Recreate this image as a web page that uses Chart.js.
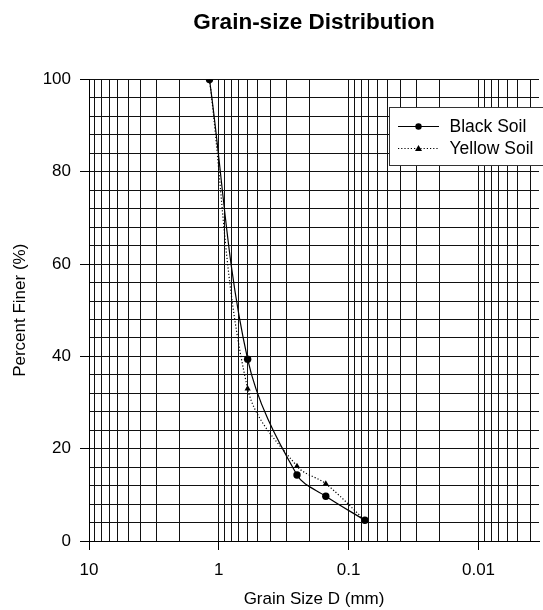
<!DOCTYPE html>
<html><head><meta charset="utf-8">
<script src="https://cdn.jsdelivr.net/npm/chart.js@4/dist/chart.umd.min.js"></script>
<style>html,body{margin:0;padding:0;background:#fff}canvas{display:block}</style>
</head><body>
<canvas id="c" width="543" height="610"></canvas>
<script>
// ---- data ----
const grainSizes = [1.18, 0.6, 0.25, 0.15, 0.075];
const blackSoil  = [100, 39.4, 14.3, 9.7, 4.5];
const yellowSoil = [100, 33.0, 16.2, 12.4, 4.5];
const seriesNames = ['Black Soil', 'Yellow Soil'];
const xTickLabels = [10, 1, 0.1, 0.01];
const xGridValues = [0.004,0.005,0.006,0.007,0.008,0.009,
  0.01,0.02,0.03,0.04,0.05,0.06,0.07,0.08,0.09,
  0.1,0.2,0.3,0.4,0.5,0.6,0.7,0.8,0.9,
  1,2,3,4,5,6,7,8,9,10];
const yTickLabels = [0, 20, 40, 60, 80, 100];
const yGridValues = [0,4,8,12,16,20,24,28,32,36,40,44,48,52,56,60,64,68,72,76,80,84,88,92,96,100];

const FONT = "'Liberation Sans', Arial, sans-serif";
Chart.defaults.font.family = FONT;
Chart.defaults.font.size = 17;
Chart.defaults.color = '#000';

const legendPlugin = {
  id: 'boxLegend',
  afterDraw(chart) {
    const ctx = chart.ctx;
    ctx.save();
    const x0 = 389.5, y0 = 107.5, w = 160, h = 58;
    ctx.fillStyle = '#fff';
    ctx.fillRect(x0, y0, w, h);
    ctx.strokeStyle = '#333';
    ctx.lineWidth = 1;
    ctx.strokeRect(x0, y0, w, h);
    const rows = [126.5, 148.5];
    chart.data.datasets.forEach((ds, i) => {
      const y = rows[i];
      ctx.strokeStyle = '#000';
      ctx.lineWidth = 1;
      ctx.setLineDash(ds.borderDash || []);
      ctx.beginPath(); ctx.moveTo(398, y); ctx.lineTo(439, y); ctx.stroke();
      ctx.setLineDash([]);
      ctx.fillStyle = '#000';
      ctx.beginPath();
      if (ds.pointStyle === 'triangle') {
        ctx.moveTo(418.5, y - 3.5); ctx.lineTo(422, y + 2.5); ctx.lineTo(415, y + 2.5); ctx.closePath();
      } else {
        ctx.arc(418.5, y, 3.2, 0, Math.PI * 2);
      }
      ctx.fill();
      ctx.font = "17.5px " + FONT;
      ctx.textBaseline = 'middle';
      ctx.textAlign = 'left';
      ctx.fillText(ds.label, 449.5, y + 0.5);
    });
    ctx.restore();
  }
};

new Chart(document.getElementById('c'), {
  type: 'line',
  data: {
    datasets: [
      {
        label: seriesNames[0],
        data: grainSizes.map((x, i) => ({x, y: blackSoil[i]})),
        borderColor: '#000', backgroundColor: '#000', borderWidth: 1.2,
        pointStyle: 'circle', pointRadius: 3.7, pointBorderWidth: 0,
        tension: 0.35, fill: false
      },
      {
        label: seriesNames[1],
        data: grainSizes.map((x, i) => ({x, y: yellowSoil[i]})),
        borderColor: '#000', backgroundColor: '#000', borderWidth: 1.2,
        borderDash: [1.2, 2],
        pointStyle: 'triangle', pointRadius: 3.6, pointBorderWidth: 0,
        tension: 0.35, fill: false
      }
    ]
  },
  options: {
    responsive: false, animation: false, devicePixelRatio: 1,
    layout: { padding: { left: 0, right: 1, top: 0, bottom: 0 } },
    plugins: {
      legend: { display: false },
      tooltip: { enabled: false },
      title: {
        display: true, text: 'Grain-size Distribution', fullSize: false,
        font: { size: 22.5, weight: 'bold' }, color: '#000',
        padding: { top: 9, bottom: 43.5 }
      }
    },
    scales: {
      x: {
        type: 'logarithmic', reverse: true, min: 0.00342, max: 10,
        afterBuildTicks(scale) { scale.ticks = xGridValues.map(v => ({value: v})); },
        afterFit(scale) { scale.height = 69; },
        ticks: {
          autoSkip: false, maxRotation: 0, padding: 10,
          callback: (v) => xTickLabels.includes(v) ? String(v) : ''
        },
        grid: {
          color: '#111', lineWidth: 1, tickLength: 9,
          tickColor: (c) => (c.tick && xTickLabels.includes(c.tick.value)) ? '#000' : 'rgba(0,0,0,0)'
        },
        border: { display: true, color: '#000' },
        title: { display: true, text: 'Grain Size D (mm)', padding: { top: 2, bottom: 0 } }
      },
      y: {
        type: 'linear', min: 0, max: 100,
        afterBuildTicks(scale) { scale.ticks = yGridValues.map(v => ({value: v})); },
        afterFit(scale) { scale.width = 89; },
        ticks: {
          autoSkip: false, padding: 9,
          callback: (v) => yTickLabels.includes(v) ? String(v) : ''
        },
        grid: {
          color: '#111', lineWidth: 1, tickLength: 9,
          tickColor: (c) => (c.tick && yTickLabels.includes(c.tick.value)) ? '#000' : 'rgba(0,0,0,0)'
        },
        border: { display: true, color: '#000' },
        title: { display: true, text: 'Percent Finer (%)', padding: { top: 10, bottom: 4 } }
      }
    }
  },
  plugins: [legendPlugin]
});
</script>
</body></html>
